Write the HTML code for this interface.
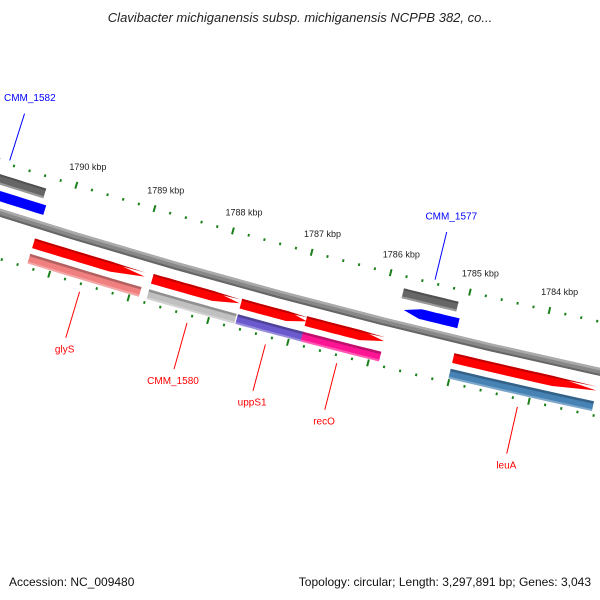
<!DOCTYPE html>
<html><head><meta charset="utf-8"><style>
body{margin:0;background:#fff}
svg{display:block;font-family:"Liberation Sans",sans-serif}
</style></head><body>
<svg id="map" width="600" height="600" viewBox="0 0 600 600">
<text x="300" y="22" text-anchor="middle" font-size="13" font-style="italic" fill="#222">Clavibacter michiganensis subsp. michiganensis NCPPB 382, co...</text>
<text x="9" y="586" font-size="12" fill="#111">Accession: NC_009480</text>
<text x="591" y="586" text-anchor="end" font-size="12" fill="#111">Topology: circular; Length: 3,297,891 bp; Genes: 3,043</text>
<g id="plot"></g>
</svg>
<script>
// data
var geneNames = ["CMM_1582","glyS","CMM_1580","uppS1","recO","CMM_1577","leuA"];
var geneStart = [1790340,1788884,1787687,1786840,1785876,1785108,1783232];
var geneEnd   = [1791400,1790291,1788787,1787671,1786855,1785795,1785011];
var geneStrand = [-1,1,1,1,1,-1,1];
var geneColor = ["#0000ff","#f08080","#c0c0c0","#6a5acd","#ff1493","#0000ff","#4682b4"];
var tickLabels = ["1784 kbp","1785 kbp","1786 kbp","1787 kbp","1788 kbp","1789 kbp","1790 kbp"];
var tickLabelPos = [1784000,1785000,1786000,1787000,1788000,1789000,1790000];

var CX=2000, CY=-6125, PHI0=-0.2959, P0=1790000, K=1.2367e-5;
function ang(p){return PHI0+(P0-p)*K;}
function pt(p,r){var a=ang(p);return [CX+r*Math.sin(a),CY+r*Math.cos(a)];}
var NS="http://www.w3.org/2000/svg";
var plot=document.getElementById('plot');
function mk(tag,attrs){var e=document.createElementNS(NS,tag);for(var k in attrs)e.setAttribute(k,attrs[k]);plot.appendChild(e);return e;}
function band(p1,p2,r1,r2,fill,arrow){
  // p1<p2 ; arrow: -1 tip at p2 end (left side on screen), 1 tip at p1 end
  var pts=[],n=8,tip=700*0+ (r2-r1)*0+ 0;
  var tipLen=Math.min(600,(p2-p1)*0.3);
  var a=p1,b=p2;
  if(arrow===1){b=p2-tipLen;}
  if(arrow===-1){a=p1+tipLen;}
  for(var i=0;i<=n;i++){var p=a+(b-a)*i/n;pts.push(pt(p,r1));}
  if(arrow===1)pts.push(pt(p2,(r1+r2)/2));
  for(var i=n;i>=0;i--){var p=a+(b-a)*i/n;pts.push(pt(p,r2));}
  if(arrow===-1)pts.push(pt(p1,(r1+r2)/2));
  return mk('polygon',{points:pts.map(function(q){return q[0].toFixed(1)+','+q[1].toFixed(1);}).join(' '),fill:fill});
}
// backbone
var bb=band(1782000,1792500,6642,6650,'#888',0);


var bb2=band(1782000,1792500,6642,6644.5,'#aaa',0);


var bb3=band(1782000,1792500,6648,6650,'#666',0);



// ticks
for(var p=1782800;p<=1791600;p+=200){
  var major=(p%1000===0);
  [[6597,-1],[6690,1]].forEach(function(row){
    var len=major?3.5:1.3;
    var q1=pt(p,row[0]-len),q2=pt(p,row[0]+len);
    var t=mk('line',{x1:q1[0],y1:q1[1],x2:q2[0],y2:q2[1],stroke:'#1a801a','stroke-width':2});
    
    
  });
}
tickLabels.forEach(function(l,i){
  var q=pt(tickLabelPos[i],6578);
  var t=mk('text',{x:q[0]+6,y:q[1]+3,'text-anchor':'middle','font-size':9,fill:'#222'});
  t.textContent=l;
  
  
});

// genes
geneNames.forEach(function(name,i){
  var s=geneStart[i],e=geneEnd[i],st=geneStrand[i];
  var arrowDir=st===1?-1:1;
  var g;
  if(st===1){
    g=band(s,e,6660,6670,'#ff0000',arrowDir);
    
    
    var hl=band(s+(e-s>0?0:0),e,6660,6662,'#c00000',arrowDir);
    
    
    var c=band(s,e,6676,6686,geneColor[i],0);
    
    
    var c2=band(s,e,6676,6678.5,'rgba(0,0,0,0.25)',0);
    
    
    var c3=band(s,e,6684,6686,'rgba(255,255,255,0.3)',0);
    
    
    var q1=pt((s+e)/2,6698),q2=pt((s+e)/2,6746),lq=pt((s+e)/2,6757);
    var col='#ff0000';
  } else {
    g=band(s,e,6609,6619,'#666',0);
    
    
    var g2=band(s,e,6609,6611,'#505050',0);
    
    
    var g3=band(s,e,6617,6619,'#999',0);
    
    
    var b=band(s-60,e-60,6625,6635,geneColor[i],arrowDir);
    
    
    var q1=pt((s+e)/2,6593),q2=pt((s+e)/2,6544),lq=pt((s+e)/2,6533);
    var col='#0000ff';
  }
  var ln=mk('line',{x1:q1[0],y1:q1[1],x2:q2[0],y2:q2[1],stroke:col,'stroke-width':1});
  
  
  var tx=mk('text',{x:lq[0]+2,y:lq[1]+(st===1?4:-2),'text-anchor':'middle','font-size':10,fill:col});
  tx.textContent=name;
  
  
});
</script>
</body></html>
